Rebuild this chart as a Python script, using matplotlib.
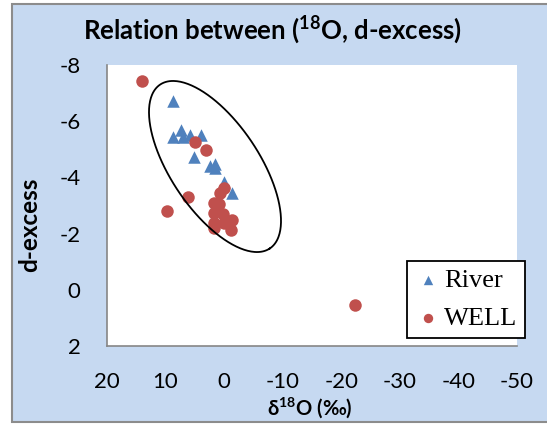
import numpy as np
import matplotlib
matplotlib.use("Agg")
import matplotlib.pyplot as plt
from matplotlib.patches import Rectangle

plt.rcParams['font.family'] = ['Lato', 'DejaVu Sans']
plt.rcParams['axes.unicode_minus'] = False
plt.rcParams['mathtext.fontset'] = 'custom'
plt.rcParams['mathtext.rm'] = 'Lato:bold'
plt.rcParams['mathtext.bf'] = 'Lato:bold'

# River samples (delta 18O, d-excess)
river_o18 = [8.75, 8.75, 7.3, 6.95, 5.9, 3.9, 5.1, 2.35, 1.5, 1.6, 0.1, -1.35]
river_dex = [-6.73, -5.45, -5.68, -5.43, -5.51, -5.51, -4.72, -4.41, -4.48, -4.32, -3.85, -3.43]

# WELL samples
well_o18 = [14.05, 5.05, 3.05, 6.1, 9.7, 0.1, 0.75, 1.8, 0.95, 1.7, 0.2, -1.35,
            1.8, 0.1, 1.8, -1.15, -22.3]
well_dex = [-7.43, -5.27, -4.98, -3.30, -2.80, -3.61, -3.43, -3.08, -3.05, -2.72,
            -2.70, -2.48, -2.37, -2.37, -2.19, -2.13, 0.54]

x_ticks = [20, 10, 0, -10, -20, -30, -40, -50]
y_ticks = [-8, -6, -4, -2, 0, 2]

W, H = 547, 424
fig = plt.figure(figsize=(W / 100, H / 100), dpi=100)
fig.patch.set_facecolor('white')

# chart area background with grey border
fig.patches.append(Rectangle((12 / W, 1 - 422 / H), 1.0, (422 - 4) / H,
                             transform=fig.transFigure, facecolor='#C6D9F1',
                             edgecolor='#8C8C8C', linewidth=1.5, zorder=-10))

ax = fig.add_axes([107 / W, 1 - 346 / H, 410 / W, 281 / H])
ax.set_facecolor('white')

ax.scatter(river_o18, river_dex, marker='^', s=9 ** 2, color='#4F81BD',
           linewidths=0, label='River', zorder=3)
ax.scatter(well_o18, well_dex, marker='o', s=9 ** 2, color='#C0504D',
           linewidths=0, label='WELL', zorder=4)

ax.set_xlim(20, -50)
ax.set_ylim(2, -8)
ax.set_xticks(x_ticks)
ax.set_yticks(y_ticks)
ax.set_xticklabels([str(v) for v in x_ticks])
ax.set_yticklabels([str(v) for v in y_ticks])
ax.tick_params(length=0, labelsize=16, pad=19)

for side in ['top', 'right']:
    ax.spines[side].set_visible(False)
for side in ['left', 'bottom']:
    ax.spines[side].set_color('#868686')
    ax.spines[side].set_linewidth(1.2)

# ellipse around the clustered samples, drawn in pixel space then mapped to data
cx, cy, a, b, th = 215.0, 166.5, 98.6, 44.2, np.deg2rad(56.2)
t = np.linspace(0, 2 * np.pi, 300)
px = cx + a * np.cos(th) * np.cos(t) - b * np.sin(th) * np.sin(t)
py = cy + a * np.sin(th) * np.cos(t) + b * np.cos(th) * np.sin(t)
ex = 20 - (px - 107) * 70 / 410
ey = -8 + (py - 65) * 10 / 281
ax.plot(ex, ey, color='black', linewidth=1.3, zorder=5)

leg = ax.legend(loc='upper left', bbox_to_anchor=(407 / W, 1 - 261 / H),
                bbox_transform=fig.transFigure, borderaxespad=0,
                prop={'family': 'Liberation Serif', 'size': 19},
                frameon=True, fancybox=False, framealpha=1, edgecolor='black',
                handletextpad=0.1, labelspacing=0.55, borderpad=0.3,
                handlelength=1.0, markerscale=0.75)
leg.get_frame().set_linewidth(1.3)
leg.set_zorder(10)

fig.text(272 / W, 1 - 30 / H, 'Relation between ($^{18}$O, d-excess)',
         ha='center', va='center', fontsize=18.5, fontweight='bold')
fig.text(30 / W, 1 - 225 / H, 'd-excess', rotation=90, ha='center',
         va='center', fontsize=17.5, fontweight='bold')
fig.text(310 / W, 1 - 408 / H, 'δ$^{18}$O (‰)', ha='center', va='center',
         fontsize=14.5, fontweight='bold')

fig.savefig('out.png', dpi=100)
